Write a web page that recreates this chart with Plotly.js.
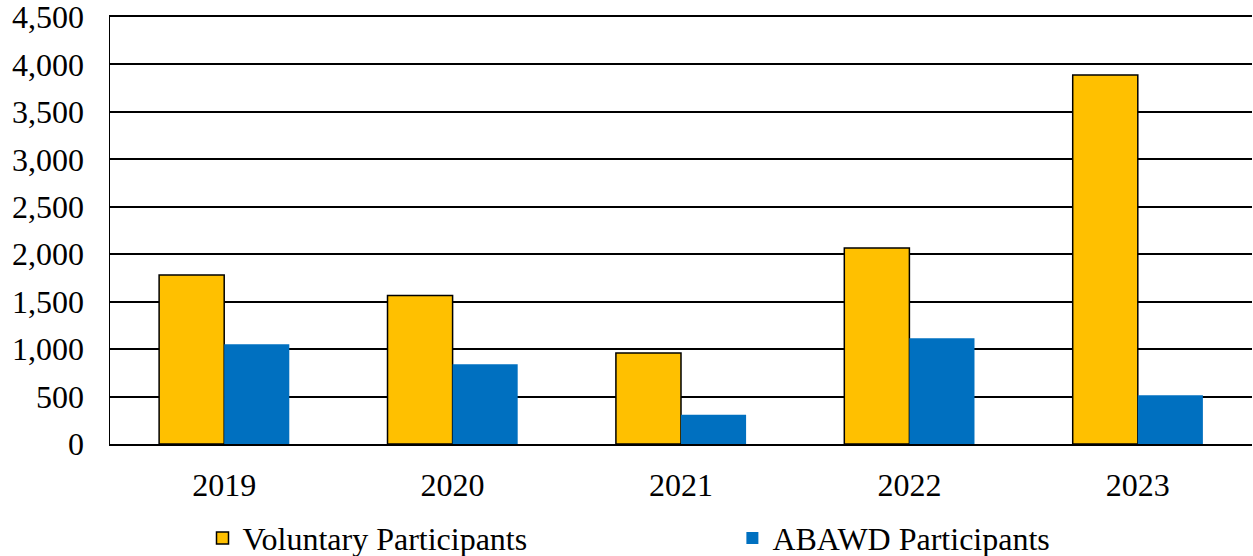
<!DOCTYPE html>
<html>
<head>
<meta charset="utf-8">
<script src="https://cdn.plot.ly/plotly-3.0.1.min.js"></script>
<style>html,body{margin:0;padding:0;background:#fff;}#chart{width:1253px;height:556px;}</style>
</head>
<body>
<div id="chart"></div>
<script>
var years = ['2019', '2020', '2021', '2022', '2023'];
var voluntary = [1780, 1565, 960, 2065, 3890];
var abawd = [1050, 840, 308, 1115, 515];
var seriesNames = ['Voluntary Participants', 'ABAWD Participants'];
var yTickVals = [0, 500, 1000, 1500, 2000, 2500, 3000, 3500, 4000, 4500];

var font = {family: '"Liberation Serif", "Times New Roman", serif', color: '#000'};
function f(s) { return Object.assign({size: s}, font); }

var traces = [
  {type: 'bar', name: seriesNames[0], x: years, y: voluntary, legend: 'legend',
   marker: {color: '#FFC000', line: {color: '#000', width: 1.5}}},
  {type: 'bar', name: seriesNames[1], x: years, y: abawd, legend: 'legend2',
   marker: {color: '#0070C0', line: {width: 0}}}
];

var legendBase = {orientation: 'h', xanchor: 'left', yref: 'container', y: 0.032, yanchor: 'middle',
                  font: f(32), itemwidth: 30, bgcolor: 'rgba(0,0,0,0)'};

var layout = {
  width: 1253, height: 556,
  margin: {l: 110, r: 1, t: 17, b: 112},
  paper_bgcolor: '#fff', plot_bgcolor: '#fff',
  barmode: 'group', bargap: 0.43, bargroupgap: 0,
  font: f(32),
  showlegend: true,
  legend: Object.assign({x: 0.081}, legendBase),
  legend2: Object.assign({x: 0.545}, legendBase),
  xaxis: {type: 'category', showgrid: false, showline: true, linecolor: '#000', linewidth: 2,
          mirror: true, ticks: '', tickfont: f(32), ticklabelstandoff: 12, fixedrange: true},
  yaxis: {range: [0, 4500], tickvals: yTickVals, tickformat: ',d',
          showgrid: true, gridcolor: '#000', gridwidth: 2,
          showline: true, linecolor: '#000', linewidth: 1.5,
          zeroline: false, ticks: '', tickfont: f(32), ticklabelstandoff: 18,
          ticklabeloverflow: 'allow', fixedrange: true}
};

Plotly.newPlot('chart', traces, layout, {displayModeBar: false, staticPlot: true});
</script>
</body>
</html>
